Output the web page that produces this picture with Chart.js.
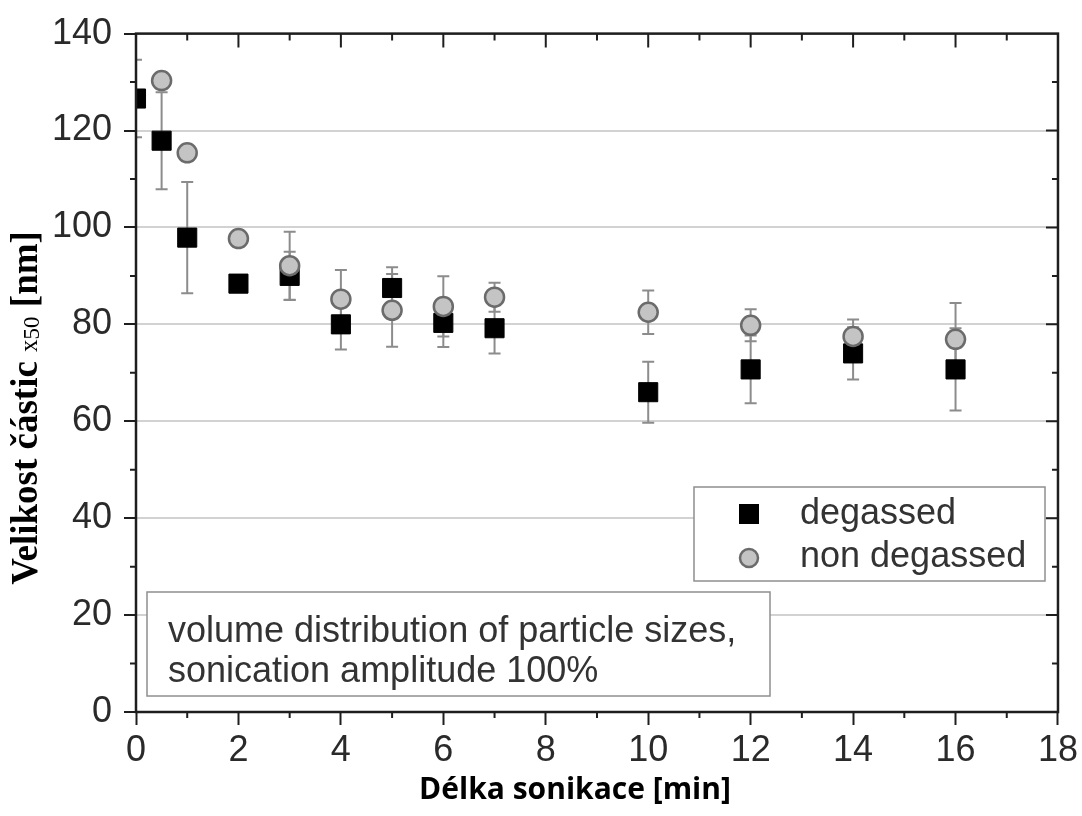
<!DOCTYPE html>
<html>
<head>
<meta charset="utf-8">
<script src="https://cdn.jsdelivr.net/npm/chart.js@4.4.1/dist/chart.umd.min.js"></script>
<style>
  html, body { margin: 0; padding: 0; background: #fff; }
</style>
</head>
<body>
<canvas id="graf" width="1082" height="816"></canvas>
<script>
// --- Data ---
const casDegassed = [0, 0.5, 1, 2, 3, 4, 5, 6, 7, 10, 12, 14, 16];
const velDegassed = [126.6, 117.9, 97.9, 88.4, 90.0, 80.0, 87.5, 80.3, 79.2, 66.0, 70.7, 74.0, 70.7];
const chybaDegassed = [8, 10, 11.5, 0, 5, 5.2, 4.3, 5, 5.2, 6.3, 7, 5.4, 8.5];

const casNonDegassed = [0.5, 1, 2, 3, 4, 5, 6, 7, 10, 12, 14, 16];
const velNonDegassed = [130.3, 115.4, 97.7, 92.1, 85.2, 82.9, 83.7, 85.6, 82.5, 79.8, 77.5, 76.9];
const chybaNonDegassed = [0, 0, 0, 7, 6, 7.5, 6.2, 3, 4.5, 3.3, 3.5, 7.5];

const xTicks = [0, 2, 4, 6, 8, 10, 12, 14, 16, 18];
const yTicks = [0, 20, 40, 60, 80, 100, 120, 140];

const legendLabels = ['degassed', 'non degassed'];
const poznamka = ['volume distribution of particle sizes,', 'sonication amplitude 100%'];
const xTitle = 'Délka sonikace [min]';

const SANS = '"Liberation Sans", Arial, sans-serif';
const SERIF = '"Liberation Serif", "Times New Roman", serif';

const toPoints = (xs, ys) => xs.map((x, i) => ({ x: x, y: ys[i] }));

// --- Error bars (under the markers) ---
const errorBars = {
  id: 'errorBars',
  beforeDatasetsDraw(chart) {
    const { ctx, chartArea, scales: { x, y } } = chart;
    const series = [
      [casDegassed, velDegassed, chybaDegassed],
      [casNonDegassed, velNonDegassed, chybaNonDegassed]
    ];
    ctx.save();
    ctx.beginPath();
    ctx.rect(chartArea.left, chartArea.top, chartArea.width, chartArea.height);
    ctx.clip();
    ctx.strokeStyle = '#8c8c8c';
    ctx.lineWidth = 2;
    series.forEach(([xs, ys, es]) => {
      xs.forEach((v, i) => {
        if (!es[i]) return;
        const px = x.getPixelForValue(v);
        const top = y.getPixelForValue(ys[i] + es[i]);
        const bot = y.getPixelForValue(ys[i] - es[i]);
        ctx.beginPath();
        ctx.moveTo(px, top); ctx.lineTo(px, bot);
        ctx.moveTo(px - 6, top); ctx.lineTo(px + 6, top);
        ctx.moveTo(px - 6, bot); ctx.lineTo(px + 6, bot);
        ctx.stroke();
      });
    });
    ctx.restore();
  }
};

// --- Frame with ticks on all four sides ---
const frame = {
  id: 'frame',
  afterDatasetsDraw(chart) {
    const { ctx, chartArea: a, scales: { x, y } } = chart;
    ctx.save();
    ctx.strokeStyle = '#1e1e1e';
    ctx.lineWidth = 2;
    ctx.beginPath();
    for (let v = 1; v < 18; v++) {
      const px = x.getPixelForValue(v);
      if (v % 2) {
        ctx.moveTo(px, a.bottom); ctx.lineTo(px, a.bottom + 6);
        ctx.moveTo(px, a.top); ctx.lineTo(px, a.top + 7);
      } else {
        ctx.moveTo(px, a.top); ctx.lineTo(px, a.top + 14);
      }
    }
    for (let v = 10; v < 140; v += 10) {
      const py = y.getPixelForValue(v);
      if (v % 20) {
        ctx.moveTo(a.left, py); ctx.lineTo(a.left - 6, py);
        ctx.moveTo(a.right, py); ctx.lineTo(a.right - 6, py);
      } else {
        ctx.moveTo(a.right, py); ctx.lineTo(a.right - 12, py);
      }
    }
    ctx.stroke();
    ctx.lineWidth = 2.5;
    ctx.strokeRect(a.left, a.top, a.width, a.height);
    ctx.restore();
  }
};

// --- Boxes inside the plot, and the axis titles ---
const overlay = {
  id: 'overlay',
  afterDraw(chart) {
    const { ctx } = chart;
    ctx.save();

    // annotation box
    ctx.fillStyle = '#fff';
    ctx.strokeStyle = '#8f8f8f';
    ctx.lineWidth = 1.5;
    ctx.fillRect(147, 592, 623, 104);
    ctx.strokeRect(147, 592, 623, 104);
    ctx.fillStyle = '#333';
    ctx.font = '36px ' + SANS;
    ctx.textBaseline = 'middle';
    ctx.textAlign = 'left';
    ctx.fillText(poznamka[0], 168, 632);
    ctx.fillText(poznamka[1], 168, 672);

    // legend
    ctx.fillStyle = '#fff';
    ctx.fillRect(694, 487, 351, 94);
    ctx.strokeRect(694, 487, 351, 94);
    ctx.fillStyle = '#000';
    ctx.fillRect(739, 504, 20, 20);
    ctx.beginPath();
    ctx.arc(749, 558, 9, 0, Math.PI * 2);
    ctx.fillStyle = '#c4c4c4';
    ctx.fill();
    ctx.strokeStyle = '#6b6b6b';
    ctx.lineWidth = 2.5;
    ctx.stroke();
    ctx.fillStyle = '#333';
    ctx.fillText(legendLabels[0], 800, 514);
    ctx.fillText(legendLabels[1], 800, 557);

    // x title
    ctx.fillStyle = '#000';
    ctx.font = 'bold 30px "Open Sans", sans-serif';
    ctx.textAlign = 'center';
    ctx.fillText(xTitle, 575, 790);

    // y title, x50 with smaller digits
    ctx.translate(25, 408);
    ctx.rotate(-Math.PI / 2);
    const parts = [
      ['Velikost částic ', 'bold 37px ' + SERIF, 0],
      ['x', '25px ' + SERIF, 0],
      ['50', '23px ' + SERIF, 2],
      [' [nm]', 'bold 37px ' + SERIF, 0]
    ];
    let total = 0;
    parts.forEach(p => { ctx.font = p[1]; total += ctx.measureText(p[0]).width; });
    let pos = -total / 2;
    ctx.textAlign = 'left';
    ctx.textBaseline = 'alphabetic';
    parts.forEach(p => {
      ctx.font = p[1];
      ctx.fillText(p[0], pos, 12 + p[2]);
      pos += ctx.measureText(p[0]).width;
    });
    ctx.restore();
  }
};

new Chart(document.getElementById('graf'), {
  type: 'scatter',
  data: {
    datasets: [
      {
        label: legendLabels[0],
        data: toPoints(casDegassed, velDegassed),
        pointStyle: 'rect',
        pointRadius: 13.5,
        backgroundColor: '#000',
        borderColor: '#000',
        borderWidth: 1,
        order: 1,
        clip: 0
      },
      {
        label: legendLabels[1],
        data: toPoints(casNonDegassed, velNonDegassed),
        pointStyle: 'circle',
        pointRadius: 9.5,
        backgroundColor: '#c4c4c4',
        borderColor: '#6b6b6b',
        borderWidth: 2.5,
        order: 0
      }
    ]
  },
  options: {
    responsive: false,
    animation: false,
    events: [],
    layout: { padding: { top: 33, right: 22, left: 0, bottom: 0 } },
    plugins: {
      legend: { display: false },
      tooltip: { enabled: false }
    },
    scales: {
      x: {
        type: 'linear',
        min: 0,
        max: 18,
        afterBuildTicks: s => { s.ticks = xTicks.map(v => ({ value: v })); },
        ticks: { font: { family: SANS, size: 36 }, color: '#2a2a2a', padding: 4, maxRotation: 0 },
        grid: { drawOnChartArea: false, tickLength: 13, tickColor: '#1e1e1e', tickWidth: 2 },
        border: { display: false },
        afterFit: s => { s.height = 104; }
      },
      y: {
        min: 0,
        max: 140,
        afterBuildTicks: s => { s.ticks = yTicks.map(v => ({ value: v })); },
        ticks: { font: { family: SANS, size: 36 }, color: '#2a2a2a', padding: 12 },
        grid: { color: '#d2d2d2', lineWidth: 2, tickLength: 12, tickColor: '#1e1e1e', tickWidth: 2 },
        border: { display: false },
        afterFit: s => { s.width = 136; }
      }
    }
  },
  plugins: [errorBars, frame, overlay]
});
</script>
</body>
</html>
